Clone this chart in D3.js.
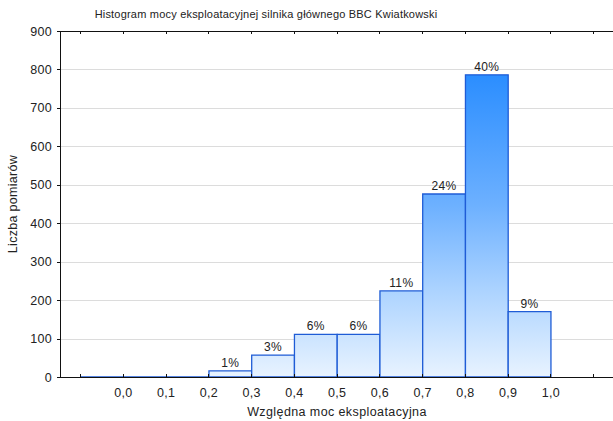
<!DOCTYPE html>
<html><head><meta charset="utf-8">
<script src="https://cdn.jsdelivr.net/npm/d3@7/dist/d3.min.js"></script>
<style>body{margin:0;background:#fff}svg{display:block}text{font-family:"Liberation Sans",Arial,sans-serif;fill:#222}</style>
</head><body>
<script>
const binStarts = [-0.1, 0.0, 0.1, 0.2, 0.3, 0.4, 0.5, 0.6, 0.7, 0.8, 0.9];
const counts = [0, 0, 0, 16, 57, 111, 111, 224, 476, 786, 170];
const pctLabels = ["", "", "", "1%", "3%", "6%", "6%", "11%", "24%", "40%", "9%"];
const xTickValues = [-0.1, 0.0, 0.1, 0.2, 0.3, 0.4, 0.5, 0.6, 0.7, 0.8, 0.9, 1.0, 1.1];
const xTickLabels = ["", "0,0", "0,1", "0,2", "0,3", "0,4", "0,5", "0,6", "0,7", "0,8", "0,9", "1,0", ""];
const yTicks = [0, 100, 200, 300, 400, 500, 600, 700, 800, 900];
const binWidth = 0.1;

(function () {
const W = 613, H = 421;
const pL = 60, pT = 31, pB = 377, pR = 613;
const svg = d3.select("body").append("svg").attr("width", W).attr("height", H);

const x = d3.scaleLinear().domain([-0.1, 1.1]).range([80.7, 593.7]);
const y = d3.scaleLinear().domain([0, 900]).range([pB, pT]);

const defs = svg.append("defs");
const grad = defs.append("linearGradient").attr("id", "bg")
  .attr("gradientUnits", "userSpaceOnUse").attr("x1", 0).attr("x2", 0)
  .attr("y1", pT).attr("y2", pB);
[[0, "#1582ff"], [0.5, "#6cb0ff"], [0.75, "#acd3ff"], [1, "#e8f3ff"]]
  .forEach(([o, c]) => grad.append("stop").attr("offset", o).attr("stop-color", c));

// grid
svg.append("g").selectAll("line").data(yTicks.filter(d => d > 0 && d < 900)).join("line")
  .attr("x1", pL).attr("x2", pR).attr("y1", d => y(d) + 0.5).attr("y2", d => y(d) + 0.5)
  .attr("stroke", "#dcdcdc").attr("stroke-width", 1).attr("shape-rendering", "crispEdges");

// bars
const bars = binStarts.map((s, i) => ({s, v: counts[i], l: pctLabels[i]}));
svg.append("g").selectAll("path").data(bars).join("path")
  .attr("d", d => {
    const x0 = x(d.s), x1 = x(d.s + binWidth), y0 = y(0), y1 = y(d.v);
    return `M${x0},${y0}V${y1}H${x1}V${y0}Z`;
  })
  .attr("fill", "url(#bg)").attr("stroke", "#1f5cd6").attr("stroke-width", 1.3);

svg.append("g").selectAll("text").data(bars.filter(d => d.l)).join("text")
  .attr("x", d => x(d.s + binWidth / 2)).attr("y", d => y(d.v) - 4)
  .attr("text-anchor", "middle").attr("font-size", 12).attr("letter-spacing", 0.4).text(d => d.l);

// axes
const ax = svg.append("g").attr("stroke", "#111").attr("stroke-width", 1).attr("shape-rendering", "crispEdges");
ax.append("line").attr("x1", pL + 0.5).attr("x2", pL + 0.5).attr("y1", pT).attr("y2", pB);
ax.append("line").attr("x1", pL).attr("x2", pR).attr("y1", pT + 0.5).attr("y2", pT + 0.5);
ax.append("line").attr("x1", pL).attr("x2", pR).attr("y1", pB + 0.5).attr("y2", pB + 0.5);
ax.selectAll(".tb").data(xTickValues).join("line").attr("class", "tb")
  .attr("x1", d => x(d)).attr("x2", d => x(d)).attr("y1", pB).attr("y2", pB - 3);
ax.selectAll(".tt").data(xTickValues).join("line").attr("class", "tt")
  .attr("x1", d => x(d)).attr("x2", d => x(d)).attr("y1", pT).attr("y2", pT + 3);
ax.selectAll(".ty").data(yTicks).join("line").attr("class", "ty")
  .attr("x1", pL - 3).attr("x2", pL).attr("y1", d => y(d) + 0.5).attr("y2", d => y(d) + 0.5);

svg.append("g").selectAll("text").data(yTicks).join("text")
  .attr("x", 52).attr("y", d => y(d) + 4.5).attr("text-anchor", "end").attr("font-size", 12.5)
  .attr("letter-spacing", 0.3).text(d => d);

svg.append("g").selectAll("text").data(xTickValues.map((v, i) => ({v, l: xTickLabels[i]}))).join("text")
  .attr("x", d => x(d.v)).attr("y", 397).attr("text-anchor", "middle").attr("font-size", 12.5)
  .attr("letter-spacing", 0.3).text(d => d.l);

svg.append("text").attr("x", 266).attr("y", 18).attr("text-anchor", "middle").attr("font-size", 11)
  .attr("letter-spacing", 0.2)
  .text("Histogram mocy eksploatacyjnej silnika głównego BBC Kwiatkowski");
svg.append("text").attr("x", 337).attr("y", 416).attr("text-anchor", "middle").attr("font-size", 12.5)
  .attr("letter-spacing", 0.4).text("Względna moc eksploatacyjna");
svg.append("text").attr("transform", `translate(17,${(pT + pB) / 2}) rotate(-90)`)
  .attr("text-anchor", "middle").attr("font-size", 12.5).attr("letter-spacing", 0.3).text("Liczba pomiarów");
})();
</script>
</body></html>
